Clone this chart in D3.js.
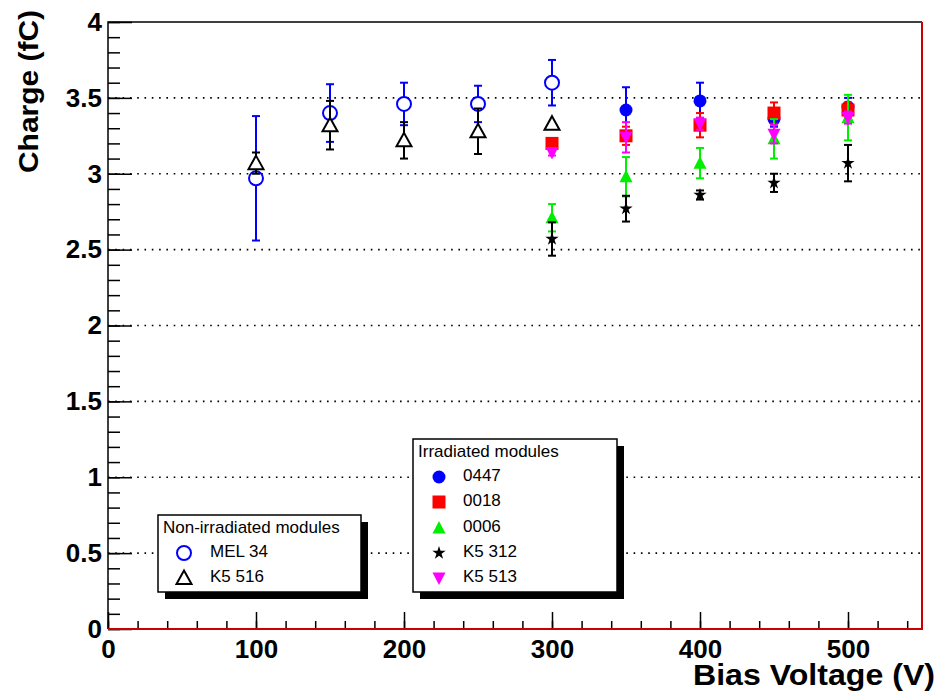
<!DOCTYPE html>
<html>
<head>
<meta charset="utf-8">
<title>Charge vs Bias Voltage</title>
<script src="https://d3js.org/d3.v7.min.js"></script>
<style>
  body { margin: 0; background: #fff; }
  svg { display: block; }
  .tick text { font-family: "Liberation Sans", Arial, sans-serif; font-weight: bold; font-size: 26px; fill: #000; }
  .leg { font-family: "Liberation Sans", Arial, sans-serif; font-size: 17px; fill: #000; }
</style>
</head>
<body>
<svg width="941" height="696"></svg>
<script>
// non-irradiated modules
var vNon = [100, 150, 200, 250, 300];
var mel34 = [2.97, 3.40, 3.46, 3.46, 3.60];
var mel34Err = [0.41, 0.19, 0.14, 0.12, 0.15];
var k5516 = [3.07, 3.32, 3.22, 3.28, 3.33];
var k5516Err = [0.07, 0.16, 0.12, 0.15, 0.0];

// irradiated modules
var v0447 = [350, 400, 450, 500];
var m0447 = [3.42, 3.48, 3.36, 3.44];
var m0447Err = [0.15, 0.12, 0.05, 0.06];
var vIrr = [300, 350, 400, 450, 500];
var m0018 = [3.20, 3.25, 3.32, 3.40, 3.42];
var m0018Err = [0.03, 0.06, 0.08, 0.07, 0.05];
var m0006 = [2.71, 2.98, 3.07, 3.23, 3.37];
var m0006Err = [0.09, 0.13, 0.10, 0.13, 0.15];
var k5312 = [2.57, 2.77, 2.86, 2.94, 3.07];
var k5312Err = [0.11, 0.085, 0.03, 0.06, 0.12];
var k5513 = [3.14, 3.24, 3.33, 3.26, 3.37];
var k5513Err = [0.02, 0.10, 0.04, 0.06, 0.04];

var yMajor = [0, 0.5, 1, 1.5, 2, 2.5, 3, 3.5, 4];
var xMajor = [0, 100, 200, 300, 400, 500];

var svg = d3.select("svg");
var x = d3.scaleLinear().domain([0, 550]).range([108, 922]);
var y = d3.scaleLinear().domain([0, 4]).range([629, 22]);

// dotted grid
svg.append("g").selectAll("line")
  .data(yMajor.filter(function(d) { return d > 0 && d < 4; }))
  .enter().append("line")
  .attr("x1", x(0)).attr("x2", x(550))
  .attr("y1", function(d) { return y(d); })
  .attr("y2", function(d) { return y(d); })
  .attr("stroke", "#000").attr("stroke-width", 1.6)
  .attr("stroke-dasharray", "1.6,5.7");

// axes
var yMinor = d3.range(0, 4.001, 0.1).map(function(d) { return +d.toFixed(1); });
var xMinor = d3.range(0, 551, 20);

svg.append("g").attr("transform", "translate(" + x(0) + ",0)")
  .call(d3.axisLeft(y).tickValues(yMinor).tickSize(-12).tickFormat(""))
  .call(function(g) { g.select(".domain").remove(); });
svg.append("g").attr("transform", "translate(" + x(0) + ",0)")
  .call(d3.axisLeft(y).tickValues(yMajor).tickSize(-24).tickPadding(6)
    .tickFormat(function(d) { return d3.format("")(d); }))
  .call(function(g) { g.select(".domain").remove(); });

svg.append("g").attr("transform", "translate(0," + y(0) + ")")
  .call(d3.axisBottom(x).tickValues(xMinor).tickSize(-8).tickFormat(""))
  .call(function(g) { g.select(".domain").remove(); });
svg.append("g").attr("transform", "translate(0," + y(0) + ")")
  .call(d3.axisBottom(x).tickValues(xMajor).tickSize(-17).tickPadding(11))
  .call(function(g) { g.select(".domain").remove(); });

svg.selectAll(".tick line").attr("stroke", "#000").attr("stroke-width", 1.5);

// frame
svg.append("path").attr("d", "M" + x(0) + "," + y(0) + "V" + y(4) + "H" + x(550))
  .attr("fill", "none").attr("stroke", "#000").attr("stroke-width", 1.5);
svg.append("path").attr("d", "M" + x(0) + "," + y(0) + "H" + x(550) + "V" + y(4))
  .attr("fill", "none").attr("stroke", "#cc0000").attr("stroke-width", 2);

// axis titles
svg.append("text")
  .attr("x", 935).attr("y", 685).attr("text-anchor", "end")
  .attr("textLength", 242).attr("lengthAdjust", "spacingAndGlyphs")
  .style("font-family", "'Liberation Sans', Arial, sans-serif")
  .style("font-weight", "bold").style("font-size", "29px")
  .text("Bias Voltage (V)");
svg.append("text")
  .attr("transform", "translate(38,10) rotate(-90)").attr("text-anchor", "end")
  .attr("textLength", 163).attr("lengthAdjust", "spacingAndGlyphs")
  .style("font-family", "'Liberation Sans', Arial, sans-serif")
  .style("font-weight", "bold").style("font-size", "28px")
  .text("Charge (fC)");

// markers
function marker(g, type, color) {
  if (type === "openCircle")
    return g.append("circle").attr("r", 7).attr("fill", "#fff").attr("stroke", color).attr("stroke-width", 2);
  if (type === "openTri")
    return g.append("path").attr("d", "M0,-7.5L7.5,6L-7.5,6Z").attr("fill", "#fff").attr("stroke", color).attr("stroke-width", 2);
  if (type === "circle")
    return g.append("circle").attr("r", 6.5).attr("fill", color);
  if (type === "square")
    return g.append("rect").attr("x", -6.5).attr("y", -6.5).attr("width", 13).attr("height", 13).attr("fill", color);
  if (type === "tri")
    return g.append("path").attr("d", "M0,-7L6.5,5.5L-6.5,5.5Z").attr("fill", color);
  if (type === "invTri")
    return g.append("path").attr("d", "M0,7L6.5,-5.5L-6.5,-5.5Z").attr("fill", color);
  if (type === "star")
    return g.append("path").attr("d", d3.symbol().type(d3.symbolStar).size(55)()).attr("fill", color);
}

function series(xs, vals, errs, type, color) {
  var g = svg.append("g");
  var pts = xs.map(function(v, i) { return { x: v, y: vals[i], e: errs[i] }; });
  var eb = g.selectAll(".eb").data(pts.filter(function(d) { return d.e > 0; })).enter().append("g")
    .attr("stroke", color).attr("stroke-width", 2);
  eb.append("line")
    .attr("x1", function(d) { return x(d.x); }).attr("x2", function(d) { return x(d.x); })
    .attr("y1", function(d) { return y(d.y - d.e); }).attr("y2", function(d) { return y(d.y + d.e); });
  eb.append("line")
    .attr("x1", function(d) { return x(d.x) - 4; }).attr("x2", function(d) { return x(d.x) + 4; })
    .attr("y1", function(d) { return y(d.y + d.e); }).attr("y2", function(d) { return y(d.y + d.e); });
  eb.append("line")
    .attr("x1", function(d) { return x(d.x) - 4; }).attr("x2", function(d) { return x(d.x) + 4; })
    .attr("y1", function(d) { return y(d.y - d.e); }).attr("y2", function(d) { return y(d.y - d.e); });
  pts.forEach(function(d) {
    var m = g.append("g").attr("transform", "translate(" + x(d.x) + "," + y(d.y) + ")");
    marker(m, type, color);
  });
}

series(vNon, mel34, mel34Err, "openCircle", "#0000ff");
series(vNon, k5516, k5516Err, "openTri", "#000");
series(v0447, m0447, m0447Err, "circle", "#0000ff");
series(vIrr, m0018, m0018Err, "square", "#ff0000");
series(vIrr, m0006, m0006Err, "tri", "#00ee00");
series(vIrr, k5312, k5312Err, "star", "#000");
series(vIrr, k5513, k5513Err, "invTri", "#ff00ff");

// legends
function legend(bx, by, bw, bh, title, entries, mx, tx, rowY) {
  svg.append("rect").attr("x", bx + 7).attr("y", by + 7).attr("width", bw).attr("height", bh).attr("fill", "#000");
  svg.append("rect").attr("x", bx).attr("y", by).attr("width", bw).attr("height", bh)
    .attr("fill", "#fff").attr("stroke", "#000").attr("stroke-width", 1.5);
  svg.append("text").attr("class", "leg").attr("x", bx + 5).attr("y", by + 18).text(title);
  entries.forEach(function(e, i) {
    var m = svg.append("g").attr("transform", "translate(" + mx + "," + (rowY[i] - 4) + ")");
    marker(m, e.type, e.color);
    svg.append("text").attr("class", "leg").attr("x", tx).attr("y", rowY[i]).text(e.name);
  });
}

legend(158, 515, 203, 77, "Non-irradiated modules",
  [{ name: "MEL 34", type: "openCircle", color: "#0000ff" },
   { name: "K5 516", type: "openTri", color: "#000" }],
  184, 210, [557, 582]);

legend(413, 439, 204, 153, "Irradiated modules",
  [{ name: "0447", type: "circle", color: "#0000ff" },
   { name: "0018", type: "square", color: "#ff0000" },
   { name: "0006", type: "tri", color: "#00ee00" },
   { name: "K5 312", type: "star", color: "#000" },
   { name: "K5 513", type: "invTri", color: "#ff00ff" }],
  439, 463, [481, 506, 532, 557, 582]);
</script>
</body>
</html>
